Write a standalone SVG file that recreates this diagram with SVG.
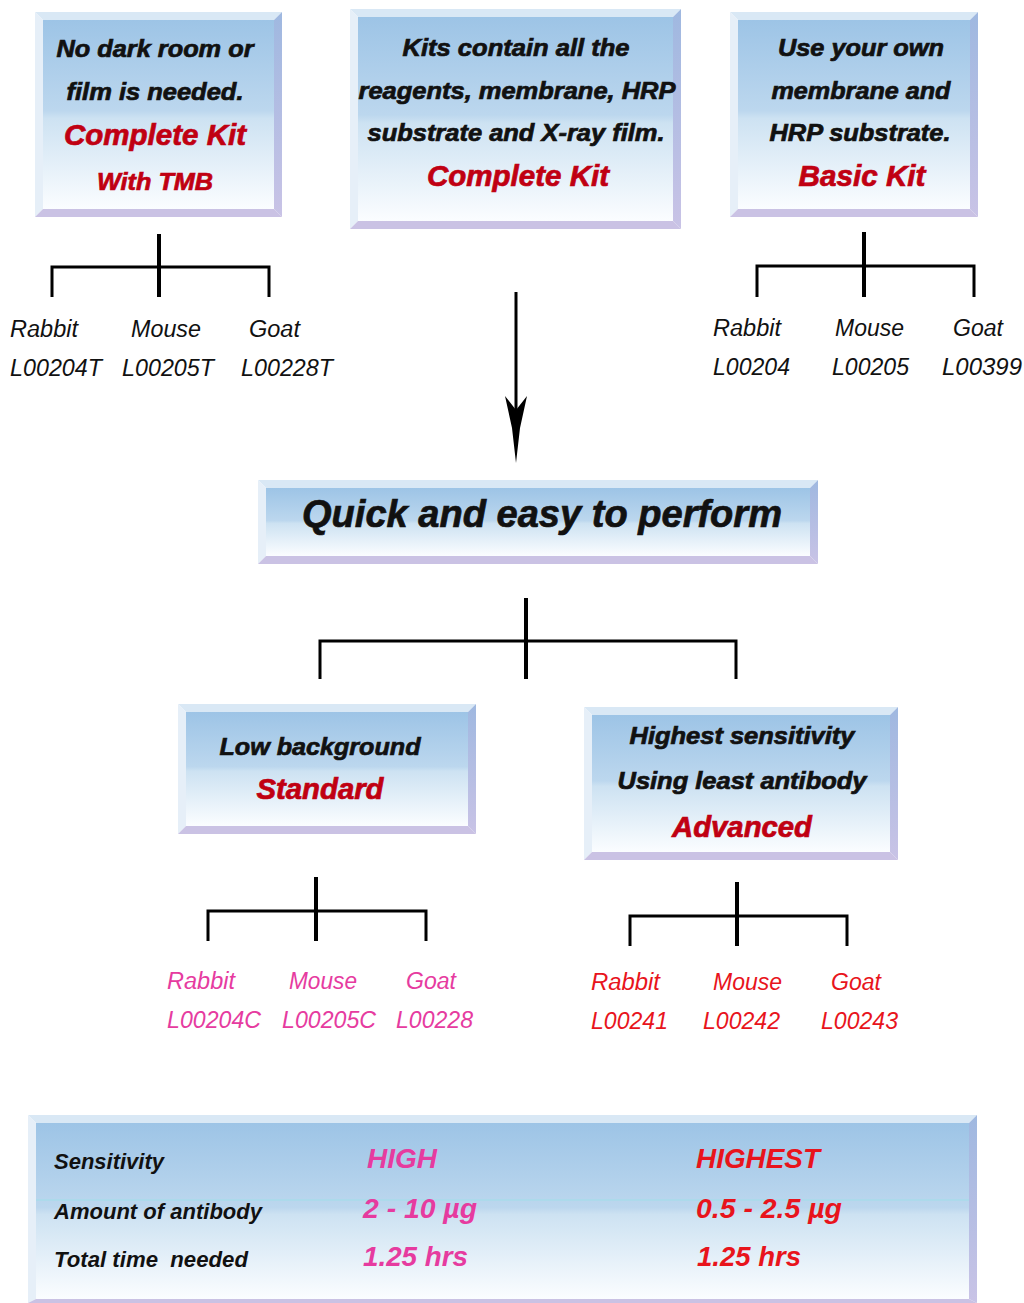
<svg xmlns="http://www.w3.org/2000/svg" width="1024" height="1303" viewBox="0 0 1024 1303">
<defs>
<linearGradient id="fill" x1="0" y1="0" x2="0" y2="1">
<stop offset="0" stop-color="#9dc4e6"/>
<stop offset="0.48" stop-color="#bcd7ee"/>
<stop offset="0.52" stop-color="#cde2f2"/>
<stop offset="1" stop-color="#fbfdff"/>
</linearGradient>
<linearGradient id="rside" x1="0" y1="0" x2="0" y2="1">
<stop offset="0" stop-color="#9fb8e0"/>
<stop offset="1" stop-color="#c9c3e6"/>
</linearGradient>
</defs>
<style>
.in{fill:url(#fill)}
.bt{fill:#d9e8f5}
.bl{fill:#e6eff8}
.br{fill:url(#rside)}
.bb{fill:#cac2e4}
.h{font-family:"Liberation Sans",Arial,sans-serif;font-weight:bold;font-style:italic;text-anchor:middle;stroke-width:0.7}
.k{fill:#111;stroke:#111}
.r{fill:#c00012;stroke:#c00012}
.lab{font-family:"Liberation Sans",Arial,sans-serif;font-style:italic;font-size:23px}
.pk{fill:#e63b9f}
.rd{fill:#e8141c}
.tb{font-family:"Liberation Sans",Arial,sans-serif;font-weight:bold;font-style:italic}
.tk{fill:#111}
.ln{stroke:#000;fill:none;stroke-width:3}
.st{stroke:#000;fill:none;stroke-width:4}
</style>
<rect width="1024" height="1303" fill="#fff"/>

<g id="box-complete-tmb">
<rect class="in" x="43" y="20" width="231" height="189"/>
<polygon class="bt" points="35,12 282,12 274,20 43,20"/>
<polygon class="bl" points="35,12 43,20 43,209 35,217"/>
<polygon class="br" points="282,12 282,217 274,209 274,20"/>
<polygon class="bb" points="35,217 43,209 274,209 282,217"/>
<text class="h k" x="155" y="57" font-size="23" textLength="197" lengthAdjust="spacingAndGlyphs">No dark room or</text>
<text class="h k" x="155" y="100" font-size="23" textLength="177" lengthAdjust="spacingAndGlyphs">film is needed.</text>
<text class="h r" x="155" y="145" font-size="29" textLength="182" lengthAdjust="spacingAndGlyphs">Complete Kit</text>
<text class="h r" x="155" y="190" font-size="24" textLength="116" lengthAdjust="spacingAndGlyphs">With TMB</text>
</g>

<g id="box-complete">
<rect class="in" x="358" y="17" width="315" height="204"/>
<polygon class="bt" points="350,9 681,9 673,17 358,17"/>
<polygon class="bl" points="350,9 358,17 358,221 350,229"/>
<polygon class="br" points="681,9 681,229 673,221 673,17"/>
<polygon class="bb" points="350,229 358,221 673,221 681,229"/>
<text class="h k" x="516" y="56" font-size="23" textLength="227" lengthAdjust="spacingAndGlyphs">Kits contain all the</text>
<text class="h k" x="517" y="99" font-size="23" textLength="317" lengthAdjust="spacingAndGlyphs">reagents, membrane, HRP</text>
<text class="h k" x="516" y="141" font-size="23" textLength="297" lengthAdjust="spacingAndGlyphs">substrate and X-ray film.</text>
<text class="h r" x="518" y="186" font-size="29" textLength="182" lengthAdjust="spacingAndGlyphs">Complete Kit</text>
</g>

<g id="box-basic">
<rect class="in" x="738" y="20" width="232" height="189"/>
<polygon class="bt" points="730,12 978,12 970,20 738,20"/>
<polygon class="bl" points="730,12 738,20 738,209 730,217"/>
<polygon class="br" points="978,12 978,217 970,209 970,20"/>
<polygon class="bb" points="730,217 738,209 970,209 978,217"/>
<text class="h k" x="861" y="56" font-size="23" textLength="166" lengthAdjust="spacingAndGlyphs">Use your own</text>
<text class="h k" x="861" y="99" font-size="23" textLength="179" lengthAdjust="spacingAndGlyphs">membrane and</text>
<text class="h k" x="860" y="141" font-size="23" textLength="181" lengthAdjust="spacingAndGlyphs">HRP substrate.</text>
<text class="h r" x="862" y="186" font-size="29" textLength="127" lengthAdjust="spacingAndGlyphs">Basic Kit</text>
</g>

<g id="box-quick">
<rect class="in" x="266" y="488" width="544" height="68"/>
<polygon class="bt" points="258,480 818,480 810,488 266,488"/>
<polygon class="bl" points="258,480 266,488 266,556 258,564"/>
<polygon class="br" points="818,480 818,564 810,556 810,488"/>
<polygon class="bb" points="258,564 266,556 810,556 818,564"/>
<text class="h k" x="542" y="527" font-size="38" textLength="480" lengthAdjust="spacingAndGlyphs">Quick and easy to perform</text>
</g>

<g id="box-standard">
<rect class="in" x="186" y="712" width="282" height="114"/>
<polygon class="bt" points="178,704 476,704 468,712 186,712"/>
<polygon class="bl" points="178,704 186,712 186,826 178,834"/>
<polygon class="br" points="476,704 476,834 468,826 468,712"/>
<polygon class="bb" points="178,834 186,826 468,826 476,834"/>
<text class="h k" x="320" y="755" font-size="24" textLength="201" lengthAdjust="spacingAndGlyphs">Low background</text>
<text class="h r" x="320" y="799" font-size="29" textLength="127" lengthAdjust="spacingAndGlyphs">Standard</text>
</g>

<g id="box-advanced">
<rect class="in" x="592" y="715" width="298" height="137"/>
<polygon class="bt" points="584,707 898,707 890,715 592,715"/>
<polygon class="bl" points="584,707 592,715 592,852 584,860"/>
<polygon class="br" points="898,707 898,860 890,852 890,715"/>
<polygon class="bb" points="584,860 592,852 890,852 898,860"/>
<text class="h k" x="742" y="744" font-size="23" textLength="225" lengthAdjust="spacingAndGlyphs">Highest sensitivity</text>
<text class="h k" x="742" y="789" font-size="23" textLength="249" lengthAdjust="spacingAndGlyphs">Using least antibody</text>
<text class="h r" x="742" y="837" font-size="29" textLength="140" lengthAdjust="spacingAndGlyphs">Advanced</text>
</g>

<g id="connectors">
<line class="st" x1="159" y1="234" x2="159" y2="297"/>
<polyline class="ln" points="52,297 52,267 269,267 269,297"/>
<line class="st" x1="864" y1="232" x2="864" y2="297"/>
<polyline class="ln" points="757,297 757,266 974,266 974,297"/>
<line x1="516" y1="292" x2="516" y2="420" stroke="#000" stroke-width="3"/>
<path d="M516,463 L512,428 L505,396 L516,410 L527,396 L520,428 Z" fill="#000"/>
<line class="st" x1="526" y1="598" x2="526" y2="679"/>
<polyline class="ln" points="320,679 320,641 736,641 736,679"/>
<line class="st" x1="316" y1="877" x2="316" y2="941"/>
<polyline class="ln" points="208,941 208,911 426,911 426,941"/>
<line class="st" x1="737" y1="882" x2="737" y2="946"/>
<polyline class="ln" points="630,946 630,916 847,916 847,946"/>
</g>

<g id="labels-tmb" class="lab" fill="#111">
<text x="10" y="337" textLength="68" lengthAdjust="spacingAndGlyphs">Rabbit</text>
<text x="131" y="337" textLength="70" lengthAdjust="spacingAndGlyphs">Mouse</text>
<text x="249" y="337" textLength="51" lengthAdjust="spacingAndGlyphs">Goat</text>
<text x="10" y="376" textLength="92" lengthAdjust="spacingAndGlyphs">L00204T</text>
<text x="122" y="376" textLength="92" lengthAdjust="spacingAndGlyphs">L00205T</text>
<text x="241" y="376" textLength="92" lengthAdjust="spacingAndGlyphs">L00228T</text>
</g>

<g id="labels-basic" class="lab" fill="#111">
<text x="713" y="336" textLength="68" lengthAdjust="spacingAndGlyphs">Rabbit</text>
<text x="835" y="336" textLength="69" lengthAdjust="spacingAndGlyphs">Mouse</text>
<text x="953" y="336" textLength="50" lengthAdjust="spacingAndGlyphs">Goat</text>
<text x="713" y="375" textLength="77" lengthAdjust="spacingAndGlyphs">L00204</text>
<text x="832" y="375" textLength="77" lengthAdjust="spacingAndGlyphs">L00205</text>
<text x="942" y="375" textLength="80" lengthAdjust="spacingAndGlyphs">L00399</text>
</g>

<g id="labels-standard" class="lab pk">
<text x="167" y="989" textLength="68" lengthAdjust="spacingAndGlyphs">Rabbit</text>
<text x="289" y="989" textLength="68" lengthAdjust="spacingAndGlyphs">Mouse</text>
<text x="406" y="989" textLength="50" lengthAdjust="spacingAndGlyphs">Goat</text>
<text x="167" y="1028" textLength="94" lengthAdjust="spacingAndGlyphs">L00204C</text>
<text x="282" y="1028" textLength="94" lengthAdjust="spacingAndGlyphs">L00205C</text>
<text x="396" y="1028" textLength="77" lengthAdjust="spacingAndGlyphs">L00228</text>
</g>

<g id="labels-advanced" class="lab rd">
<text x="591" y="990" textLength="69" lengthAdjust="spacingAndGlyphs">Rabbit</text>
<text x="713" y="990" textLength="69" lengthAdjust="spacingAndGlyphs">Mouse</text>
<text x="831" y="990" textLength="50" lengthAdjust="spacingAndGlyphs">Goat</text>
<text x="591" y="1029" textLength="77" lengthAdjust="spacingAndGlyphs">L00241</text>
<text x="703" y="1029" textLength="77" lengthAdjust="spacingAndGlyphs">L00242</text>
<text x="821" y="1029" textLength="77" lengthAdjust="spacingAndGlyphs">L00243</text>
</g>

<g id="table">
<rect class="in" x="36" y="1123" width="933" height="176"/>
<polygon class="bt" points="28,1115 977,1115 969,1123 36,1123"/>
<polygon class="bl" points="28,1115 36,1123 36,1299 28,1303"/>
<polygon class="br" points="977,1115 977,1303 969,1299 969,1123"/>
<polygon class="bb" points="28,1303 36,1299 969,1299 977,1303"/>
<line x1="36" y1="1200" x2="969" y2="1200" stroke="#a9dbea" stroke-width="1.5"/>
<text class="tb tk" x="54" y="1169" font-size="22" textLength="110" lengthAdjust="spacingAndGlyphs">Sensitivity</text>
<text class="tb tk" x="54" y="1219" font-size="22" textLength="208" lengthAdjust="spacingAndGlyphs">Amount of antibody</text>
<text class="tb tk" x="54" y="1267" font-size="22" textLength="194" lengthAdjust="spacingAndGlyphs" xml:space="preserve">Total time  needed</text>
<text class="tb pk" x="367" y="1168" font-size="27" textLength="70" lengthAdjust="spacingAndGlyphs">HIGH</text>
<text class="tb pk" x="363" y="1218" font-size="27" textLength="114" lengthAdjust="spacingAndGlyphs">2 - 10 µg</text>
<text class="tb pk" x="363" y="1266" font-size="27" textLength="105" lengthAdjust="spacingAndGlyphs">1.25 hrs</text>
<text class="tb rd" x="696" y="1168" font-size="27" textLength="124" lengthAdjust="spacingAndGlyphs">HIGHEST</text>
<text class="tb rd" x="696" y="1218" font-size="27" textLength="146" lengthAdjust="spacingAndGlyphs">0.5 - 2.5 µg</text>
<text class="tb rd" x="697" y="1266" font-size="27" textLength="104" lengthAdjust="spacingAndGlyphs">1.25 hrs</text>
</g>
</svg>
